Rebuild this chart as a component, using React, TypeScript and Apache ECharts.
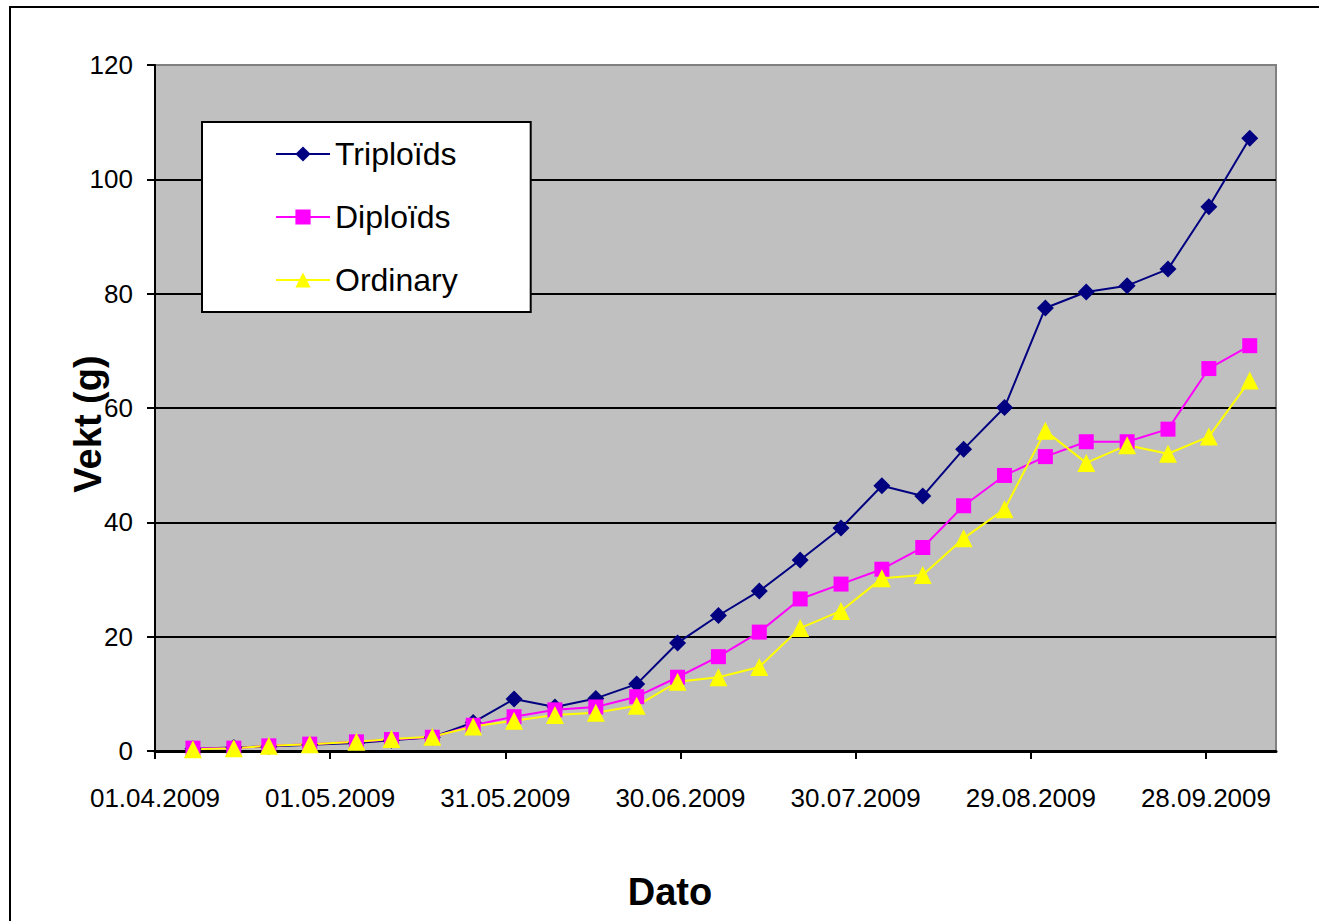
import React, { useEffect, useRef } from "react";
import * as echarts from "echarts";

const START = Date.UTC(2009, 3, 1);
const DAY = 86400000;

const dates = [
  "2009-04-07", "2009-04-14", "2009-04-20", "2009-04-27", "2009-05-05", "2009-05-11",
  "2009-05-18", "2009-05-25", "2009-06-01", "2009-06-08", "2009-06-15", "2009-06-22",
  "2009-06-29", "2009-07-06", "2009-07-13", "2009-07-20", "2009-07-27", "2009-08-03",
  "2009-08-10", "2009-08-17", "2009-08-24", "2009-08-31", "2009-09-07", "2009-09-14",
  "2009-09-21", "2009-09-28", "2009-10-05",
];
const triploids = [
  0.4, 0.6, 0.8, 1.1, 1.4, 1.9, 2.4, 5.0, 9.1, 7.7, 9.2, 11.7, 18.9, 23.7, 28.0, 33.4,
  39.0, 46.4, 44.6, 52.8, 60.1, 77.5, 80.3, 81.4, 84.3, 95.2, 107.2,
];
const diploids = [
  0.5, 0.5, 0.9, 1.2, 1.6, 2.0, 2.4, 4.5, 6.0, 7.2, 7.7, 9.5, 12.9, 16.5, 20.8, 26.6,
  29.2, 31.8, 35.6, 42.9, 48.2, 51.5, 54.1, 54.1, 56.3, 66.9, 70.9,
];
const ordinary = [
  0.3, 0.5, 0.9, 1.2, 1.6, 2.1, 2.5, 4.3, 5.3, 6.3, 6.7, 7.9, 12.1, 12.9, 14.7, 21.5,
  24.5, 30.2, 30.8, 37.2, 42.3, 56.0, 50.4, 53.5, 52.0, 55.0, 64.8,
];
const seriesNames = ["Triploïds", "Diploïds", "Ordinary"];
const yTicks = [0, 20, 40, 60, 80, 100, 120];

const FONT = "'Liberation Sans', Arial, sans-serif";

// day offset from 01.04.2009, placed at the centre of the day (Excel date axis)
function dayOf(s: string): number {
  const [y, m, d] = s.split("-").map(Number);
  return (Date.UTC(y, m - 1, d) - START) / DAY + 0.5;
}
function fmt(v: number): string {
  const dt = new Date(START + Math.round(v) * DAY);
  const dd = String(dt.getUTCDate()).padStart(2, "0");
  const mm = String(dt.getUTCMonth() + 1).padStart(2, "0");
  return `${dd}.${mm}.${dt.getUTCFullYear()}`;
}
function pairs(vals: number[]) {
  return vals.map((v, i) => [dayOf(dates[i]), v]);
}

export default function App() {
  const ref = useRef<HTMLDivElement>(null);
  useEffect(() => {
    const chart = echarts.init(ref.current!, null, { renderer: "svg" });
    const mk = (name: string, vals: number[], color: string, symbol: string, size: number) => ({
      name,
      type: "line",
      data: pairs(vals),
      symbol,
      symbolSize: size,
      showAllSymbol: true,
      lineStyle: { color, width: 2 },
      itemStyle: { color, borderColor: color, borderWidth: 0 },
      emphasis: { disabled: true },
    });
    chart.setOption({
      animation: false,
      backgroundColor: "#ffffff",
      textStyle: { fontFamily: FONT },
      grid: {
        left: 155,
        top: 65,
        right: 43,
        bottom: 170,
        show: true,
        backgroundColor: "#C0C0C0",
        borderColor: "#808080",
        borderWidth: 2,
        outerBoundsMode: "none",
      },
      legend: {
        orient: "vertical",
        left: 202,
        top: 122,
        padding: [16, 73, 16, 73],
        itemWidth: 54,
        itemHeight: 19,
        itemGap: 31,
        backgroundColor: "#ffffff",
        borderColor: "#000000",
        borderWidth: 2,
        borderRadius: 0,
        data: seriesNames,
        textStyle: { fontSize: 32, lineHeight: 31, color: "#000", fontFamily: FONT },
      },
      xAxis: {
        type: "value",
        min: 0,
        max: 192,
        interval: 30,
        splitLine: { show: false },
        axisLine: { show: true, onZero: false, lineStyle: { color: "#000", width: 3 } },
        axisTick: { show: true, length: 8, lineStyle: { color: "#000", width: 2 } },
        axisLabel: {
          formatter: (v: number) => fmt(v),
          fontSize: 26,
          color: "#000",
          margin: 34,
          showMaxLabel: false,
          fontFamily: FONT,
        },
      },
      yAxis: {
        type: "value",
        min: 0,
        max: 120,
        interval: 20,
        splitLine: {
          show: true,
          lineStyle: {
            color: yTicks.map((t) => (t === 120 ? "#808080" : "#000000")),
            width: 2,
          },
        },
        axisLine: { show: true, lineStyle: { color: "#000", width: 2 } },
        axisTick: { show: true, length: 8, lineStyle: { color: "#000", width: 2 } },
        axisLabel: { fontSize: 26, color: "#000", margin: 22, fontFamily: FONT },
      },
      graphic: [
        {
          type: "polyline",
          z: -10,
          shape: { points: [[10, 940], [10, 7], [1340, 7]] },
          style: { fill: "none", stroke: "#000", lineWidth: 2 },
        },
        {
          type: "text",
          x: 670,
          y: 892,
          style: {
            text: "Dato",
            fontSize: 38,
            fontWeight: "bold",
            fontFamily: FONT,
            fill: "#000",
            align: "center",
            verticalAlign: "middle",
          },
        },
        {
          type: "text",
          x: 88,
          y: 424,
          rotation: Math.PI / 2,
          style: {
            text: "Vekt (g)",
            fontSize: 38,
            fontWeight: "bold",
            fontFamily: FONT,
            fill: "#000",
            align: "center",
            verticalAlign: "middle",
          },
        },
      ],
      series: [
        mk(seriesNames[0], triploids, "#000080", "diamond", 17),
        mk(seriesNames[1], diploids, "#FF00FF", "rect", 15),
        mk(seriesNames[2], ordinary, "#FFFF00", "triangle", 18),
      ],
    });
    return () => chart.dispose();
  }, []);
  return (
    <div
      ref={ref}
      style={{ position: "absolute", left: 0, top: 0, width: 1319, height: 921 }}
    />
  );
}
